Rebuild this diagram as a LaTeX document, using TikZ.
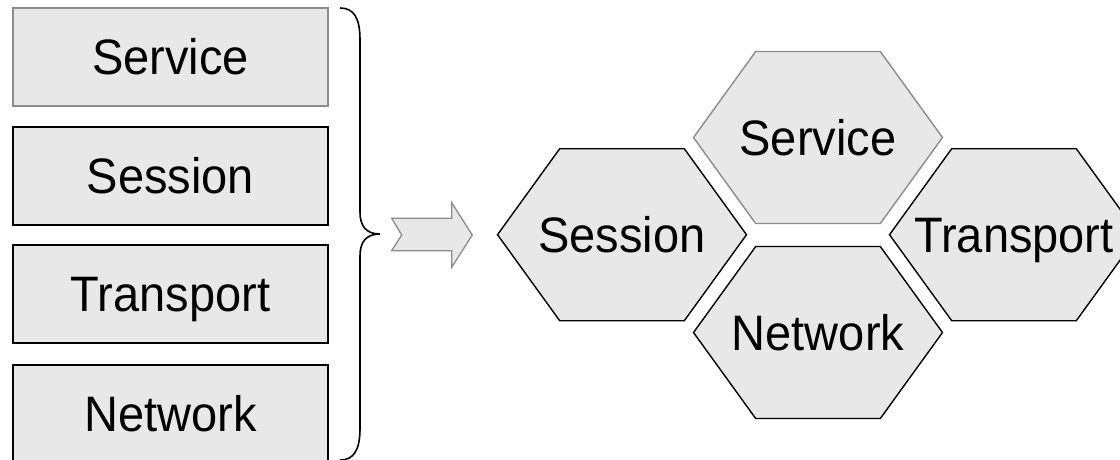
\documentclass[tikz,border=0pt]{standalone}
\usepackage{fontspec}
\setmainfont{Liberation Sans}
\definecolor{boxfill}{HTML}{E8E8E8}
\definecolor{softline}{HTML}{8C8C8C}
\newcommand{\lbl}[1]{\scalebox{1}[1.06]{#1}}
\tikzset{
  labeltext/.style={font=\fontsize{47}{56}\selectfont, text height=35.7pt, text depth=0pt},
  layerbox/.style={labeltext, draw=black, fill=boxfill, line width=1.4pt, minimum width=315pt, minimum height=98pt, inner sep=0pt},
  hexshape/.style={draw=black, fill=boxfill, line width=1.4pt, line join=miter},
  hexlabel/.style={labeltext, inner sep=0pt},
  bracestyle/.style={draw=black, line width=1.6pt},
  arrowshape/.style={draw=softline, fill=boxfill, line width=1.3pt, line join=miter}
}
\newcommand{\hexat}[2]{%
  \path[#2] (#1) ++(-124.5,0) -- ++(62.2,-86) -- ++(124.6,0) -- ++(62.2,86) -- ++(-62.2,86) -- ++(-124.6,0) -- cycle;}
\begin{document}
\begin{tikzpicture}[x=1pt,y=-1pt]
\useasboundingbox (0,0) rectangle (1120,459);
\clip (0,0) rectangle (1120,459);
% left stack
\node[layerbox, draw=softline] (lsvc) at (170.5,57) {\lbl{Service}};
\node[layerbox] (lses) at (170.5,176) {\lbl{Session}};
\node[layerbox] (ltra) at (170.5,294) {\lbl{Transport}};
\node[layerbox] (lnet) at (170.5,414) {\lbl{Network}};
% brace
\coordinate (btop) at (340,8);
\coordinate (btip) at (380,234);
\coordinate (bbot) at (340,460);
\draw[bracestyle] (btop) .. controls (354,8) and (360,18) .. (360,40) -- (360,212)
  .. controls (360,226) and (366,234) .. (btip)
  .. controls (366,234) and (360,242) .. (360,256) -- (360,428)
  .. controls (360,450) and (354,460) .. (bbot);
% arrow
\coordinate (atail) at (391.7,218.3);
\path[arrowshape] (atail) -- (451.7,218.3) -- (451.7,202.7) -- (472.3,235) -- (451.7,267.3) -- (451.7,250.7) -- (391.7,250.7) -- (401.7,235) -- cycle;
% hexagons
\coordinate (csvc) at (818,137.5);
\coordinate (cses) at (622,234.7);
\coordinate (ctra) at (1014,234.7);
\coordinate (cnet) at (818,332.5);
\hexat{csvc}{hexshape, draw=softline}
\hexat{cses}{hexshape}
\hexat{ctra}{hexshape}
\hexat{cnet}{hexshape}
\node[hexlabel] (hsvc) at (csvc) {\lbl{Service}};
\node[hexlabel] (hses) at (cses) {\lbl{Session}};
\node[hexlabel] (htra) at (ctra) {\lbl{Transport}};
\node[hexlabel] (hnet) at (cnet) {\lbl{Network}};
\end{tikzpicture}
\end{document}
